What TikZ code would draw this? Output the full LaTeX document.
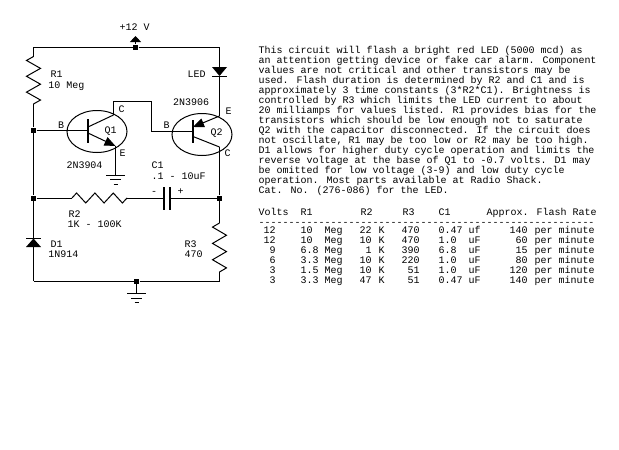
\documentclass[tikz,border=0pt]{standalone}
\usepackage{fontspec}
\usepackage{amsmath}
\usetikzlibrary{arrows.meta}
\usetikzlibrary{calc}
\usetikzlibrary{decorations.pathmorphing}
\usetikzlibrary{shapes.geometric}
\newfontfamily\pixfont{Liberation Mono}
\tikzset{
	txt/.style={anchor=base west,inner sep=0pt,font=\pixfont\fontsize{10pt}{10pt}\selectfont},
	junction/.style={fill,rectangle,inner sep=0pt,minimum size=5pt},
	glass/.style={draw,ellipse,inner sep=0pt,minimum width=60pt,minimum height=42pt},
	coil/.style={decorate,decoration={zigzag,segment length=#1,amplitude=7pt}},
	tip/.style={-{Triangle[length=11pt,width=9pt]}}
}
\begin{document}
\begin{tikzpicture}[x=1pt,y=-1pt,line width=1pt]
	\useasboundingbox (0,0) rectangle (619,450);
	% junctions
	\node[junction] (top) at (135.5,47) {};
	\node[junction] (base) at (33.5,130) {};
	\node[junction] (left) at (33.5,198) {};
	\node[junction] (right) at (219.5,198) {};
	\node[junction] (bot) at (136.5,281) {};
	\coordinate (tl) at (33.5,47);
	\coordinate (tr) at (219.5,47);
	\coordinate (bl) at (33.5,281);
	\coordinate (br) at (219.5,281);
	\coordinate (plus) at (135.5,36);
	% rails
	\draw (tl) -- (top) -- (tr);
	\draw (bl) -- (bot) -- (br);
	\draw[-{Triangle[length=6pt,width=11pt]}] (top) -- (plus);
	% R1
	\coordinate (r1a) at (33.5,56.5);
	\coordinate (r1b) at (33.5,104);
	\draw (tl) -- (r1a);
	\draw[coil=15.83pt,decoration={mirror}] (r1a) -- (r1b);
	\draw (r1b) -- (base) -- (left);
	% LED
	\coordinate (leda) at (219.5,67);
	\coordinate (ledb) at (219.5,76);
	\fill (leda) ++(-7.5,0) -- ++(15,0) -- (ledb) -- cycle;
	\draw (ledb) ++(-7.5,0) -- ++(15,0);
	% Q1
	\node[glass] (q1) at (97,131.5) {};
	\coordinate (q1bt) at (88,119);
	\coordinate (q1bb) at (88,143);
	\coordinate (q1b) at (88,130);
	\coordinate (q1ci) at (88,127);
	\coordinate (q1ei) at (88,133);
	\coordinate (q1c) at (113.5,115);
	\coordinate (q1e) at (115.5,146);
	\draw[line width=1.5pt] (q1bt) -- (q1bb);
	\draw (base) -- (q1b);
	\draw (q1ci) -- (q1c);
	\draw[tip] (q1ei) -- (q1e);
	% Q2
	\node[glass] (q2) at (202,134.5) {};
	\coordinate (q2bt) at (193,120);
	\coordinate (q2bb) at (193,143);
	\coordinate (q2b) at (193,131);
	\coordinate (q2ei) at (193,127);
	\coordinate (q2ci) at (193,136.5);
	\coordinate (q2e) at (219.5,116);
	\coordinate (q2c) at (219.5,147);
	\draw[line width=1.5pt] (q2bt) -- (q2bb);
	\draw[tip] (q2e) -- (q2ei);
	\draw (q2ci) -- (q2c);
	% wires round the transistors
	\draw (tr) -- (leda);
	\draw (ledb) -- (q2e);
	\draw (q2c) -- (right);
	\coordinate (lnka) at (113.5,101);
	\coordinate (lnkb) at (151.5,101);
	\coordinate (lnkc) at (151.5,131);
	\draw (q1c) -- (lnka) -- (lnkb) -- (lnkc) -- (q2b);
	% ground of Q1
	\coordinate (gnda) at (115.5,175);
	\draw (q1e) -- (gnda);
	\foreach \half/\drop in {9.5/0, 5.5/4.5, 2/9} {
		\draw ($(gnda)+(-\half,\drop)$) -- ($(gnda)+(\half,\drop)$);
	}
	% R2 and C1
	\coordinate (r2a) at (72,198);
	\coordinate (r2b) at (127,198);
	\coordinate (c1a) at (164,198);
	\coordinate (c1b) at (170,198);
	\draw (left) -- (r2a);
	\draw[decorate,decoration={zigzag,segment length=18.33pt,amplitude=5pt}] (r2a) -- (r2b);
	\draw (r2b) -- (c1a);
	\draw (c1b) -- (right);
	\draw[line width=1.5pt] (164,187) -- (164,210);
	\draw[line width=1.5pt] (170,187) -- (170,210);
	% D1
	\coordinate (d1a) at (33.5,238.5);
	\coordinate (d1b) at (33.5,247);
	\draw (left) -- (d1a);
	\draw (d1a) ++(-7.5,0) -- ++(15,0);
	\fill (d1a) -- ($(d1b)+(-7.5,0)$) -- ($(d1b)+(7.5,0)$) -- cycle;
	\draw (d1b) -- (bl);
	% R3
	\coordinate (r3a) at (219.5,223);
	\coordinate (r3b) at (219.5,272);
	\draw (right) -- (r3a);
	\draw[coil=16.33pt,decoration={mirror}] (r3a) -- (r3b);
	\draw (r3b) -- (br);
	% main ground
	\coordinate (gndb) at (136.5,293.5);
	\draw (bot) -- (gndb);
	\foreach \half/\drop in {9.5/0, 5.5/4.5, 2/9} {
		\draw ($(gndb)+(-\half,\drop)$) -- ($(gndb)+(\half,\drop)$);
	}
	% circuit labels
	\foreach \name/\xpos/\ypos/\label in {
		vcc/119/30/{+12 V}, rone/50/77/R1, ronev/48/88/10 Meg, led/187/77/LED,
		qtwot/172.5/105/2N3906, qtwoe/225/114/E, qtwoc/224/156/C, qtwob/163/128/B, qtwo/210/135/Q2,
		qoneb/57.5/128/B, qone/104/133/Q1, qonec/118/112/C, qonee/119/156/E, qonet/66/168/2N3904,
		cone/151/168/C1, conev/151/179/{.1 - 10uF}, minus/150.5/194/-, pluss/177/194/+,
		rtwo/68/217/R2, rtwov/67/227/{1K - 100K},
		done/50/247/D1, donet/48/257/1N914, rthree/184/247/R3, rthreev/184/257/470} {
		\node[txt] (lab\name) at (\xpos,\ypos) {\label};
	}
	% notes
	\foreach \line [count=\i from 0] in {
		{This circuit will flash a bright red LED (5000 mcd) as},
		{an attention getting device or fake car alarm. Component},
		{values are not critical and other transistors may be},
		{used. Flash duration is determined by R2 and C1 and is},
		{approximately 3 time constants (3*R2*C1). Brightness is},
		{controlled by R3 which limits the LED current to about},
		{20 milliamps for values listed. R1 provides bias for the},
		{transistors which should be low enough not to saturate},
		{Q2 with the capacitor disconnected. If the circuit does},
		{not oscillate, R1 may be too low or R2 may be too high.},
		{D1 allows for higher duty cycle operation and limits the},
		{reverse voltage at the base of Q1 to -0.7 volts. D1 may},
		{be omitted for low voltage (3-9) and low duty cycle},
		{operation. Most parts available at Radio Shack.},
		{Cat. No. (276-086) for the LED.}} {
		\node[txt] (note\i) at (258,53+10*\i) {\line};
	}
	% table
	\foreach \col/\head in {0/Volts, 7/R1, 17/R2, 24/R3, 30/C1, 38/{Approx. Flash Rate}} {
		\node[txt] (head\col) at (258+6*\col,215) {\head};
	}
	\node[txt] (rule) at (258,225) {--------------------------------------------------------};
	\foreach \a/\b/\c/\d/\e/\f/\g [count=\i from 0] in {
		12/10/22/470/0.47/uf/140, 12/10/10/470/1.0/uF/60, 9/6.8/1/390/6.8/uF/15,
		6/3.3/10/220/1.0/uF/80, 3/1.5/10/51/1.0/uF/120, 3/3.3/47/51/0.47/uF/140} {
		\begin{scope}[yshift=-\i*10pt]
			\node[txt,anchor=base east] (volts\i) at (258+18,233) {\a};
			\node[txt] (rone\i) at (258+42,233) {\b};
			\node[txt] (meg\i) at (258+66,233) {Meg};
			\node[txt,anchor=base east] (rtwo\i) at (258+114,233) {\c};
			\node[txt] (kilo\i) at (258+120,233) {K};
			\node[txt,anchor=base east] (rthree\i) at (258+162,233) {\d};
			\node[txt] (cone\i) at (258+180,233) {\e};
			\node[txt] (farad\i) at (258+210,233) {\f};
			\node[txt,anchor=base east] (rate\i) at (258+270,233) {\g};
			\node[txt] (per\i) at (258+276,233) {per minute};
		\end{scope}
	}
\end{tikzpicture}
\end{document}
